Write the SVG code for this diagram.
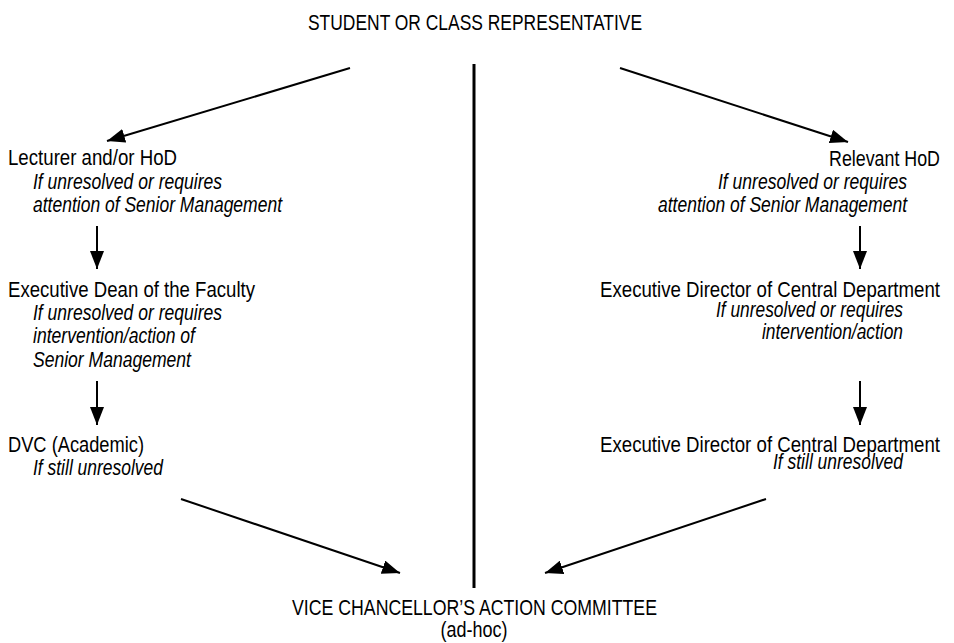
<svg xmlns="http://www.w3.org/2000/svg" width="954" height="643" viewBox="0 0 954 643">
  <style>
    text { font-family: "Liberation Sans", Arial, sans-serif; font-size: 22px; fill: #000; }
    .it { font-style: italic; }
    .mid { text-anchor: middle; }
    .end { text-anchor: end; }
    .conn line { stroke: #000; stroke-width: 2; }
    .divider { stroke: #000; stroke-width: 3; }
  </style>
  <defs>
    <marker id="ah" viewBox="0 0 10 10" refX="10" refY="5" markerWidth="18" markerHeight="14" markerUnits="userSpaceOnUse" orient="auto" preserveAspectRatio="none">
      <path d="M0,0 L10,5 L0,10 z" fill="#000"/>
    </marker>
  </defs>

  <!-- narrow lettering: each line is fitted to its printed width -->
  <g id="student"><text class="mid" x="475" y="30" textLength="334" lengthAdjust="spacingAndGlyphs">STUDENT OR CLASS REPRESENTATIVE</text></g>

  <line class="divider" x1="474" y1="64" x2="474" y2="588"/>

  <!-- academic route -->
  <g id="lecturer">
    <text x="8" y="165" textLength="169" lengthAdjust="spacingAndGlyphs">Lecturer and/or HoD</text>
    <text class="it" x="33" y="189" textLength="189" lengthAdjust="spacingAndGlyphs">If unresolved or requires</text>
    <text class="it" x="33" y="212" textLength="249" lengthAdjust="spacingAndGlyphs">attention of Senior Management</text>
  </g>
  <g id="dean">
    <text x="8" y="297" textLength="247" lengthAdjust="spacingAndGlyphs">Executive Dean of the Faculty</text>
    <text class="it" x="33" y="320" textLength="189" lengthAdjust="spacingAndGlyphs">If unresolved or requires</text>
    <text class="it" x="33" y="343" textLength="162" lengthAdjust="spacingAndGlyphs">intervention/action of</text>
    <text class="it" x="33" y="367" textLength="158" lengthAdjust="spacingAndGlyphs">Senior Management</text>
  </g>
  <g id="dvc">
    <text x="8" y="452" textLength="136" lengthAdjust="spacingAndGlyphs">DVC (Academic)</text>
    <text class="it" x="33" y="475" textLength="130" lengthAdjust="spacingAndGlyphs">If still unresolved</text>
  </g>

  <!-- central department route -->
  <g id="hod">
    <text class="end" x="940" y="166" textLength="111" lengthAdjust="spacingAndGlyphs">Relevant HoD</text>
    <text class="it end" x="907" y="189" textLength="189" lengthAdjust="spacingAndGlyphs">If unresolved or requires</text>
    <text class="it end" x="907" y="212" textLength="249" lengthAdjust="spacingAndGlyphs">attention of Senior Management</text>
  </g>
  <g id="director1">
    <text class="end" x="940" y="297" textLength="340" lengthAdjust="spacingAndGlyphs">Executive Director of Central Department</text>
    <text class="it end" x="903" y="317" textLength="187" lengthAdjust="spacingAndGlyphs">If unresolved or requires</text>
    <text class="it end" x="903" y="339" textLength="141" lengthAdjust="spacingAndGlyphs">intervention/action</text>
  </g>
  <g id="director2">
    <text class="end" x="940" y="452" textLength="340" lengthAdjust="spacingAndGlyphs">Executive Director of Central Department</text>
    <text class="it end" x="903" y="469" textLength="130" lengthAdjust="spacingAndGlyphs">If still unresolved</text>
  </g>

  <g id="vcac">
    <text class="mid" x="474.5" y="615" textLength="365" lengthAdjust="spacingAndGlyphs">VICE CHANCELLOR’S ACTION COMMITTEE</text>
    <text class="mid" x="474" y="637" textLength="67" lengthAdjust="spacingAndGlyphs">(ad-hoc)</text>
  </g>

  <g class="conn">
    <line x1="350" y1="68" x2="107" y2="141" marker-end="url(#ah)"/>
    <line x1="620" y1="68" x2="848" y2="142" marker-end="url(#ah)"/>
    <line x1="97" y1="226" x2="97" y2="269" marker-end="url(#ah)"/>
    <line x1="97" y1="381" x2="97" y2="425" marker-end="url(#ah)"/>
    <line x1="860" y1="226" x2="860" y2="269" marker-end="url(#ah)"/>
    <line x1="860" y1="381" x2="860" y2="425" marker-end="url(#ah)"/>
    <line x1="181" y1="499" x2="400" y2="573" marker-end="url(#ah)"/>
    <line x1="766" y1="499" x2="545" y2="573" marker-end="url(#ah)"/>
  </g>
</svg>
